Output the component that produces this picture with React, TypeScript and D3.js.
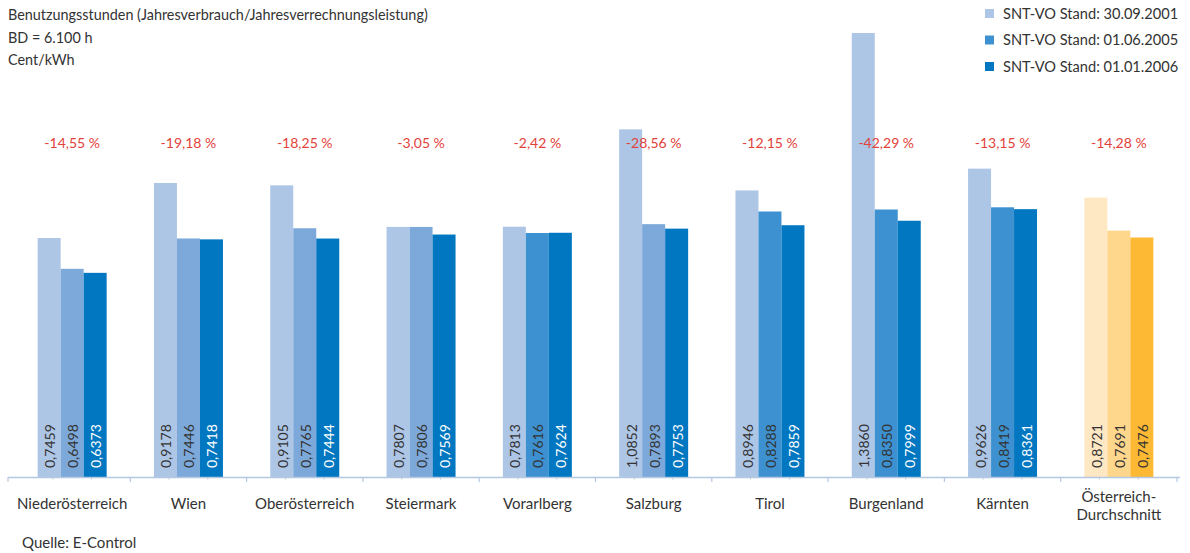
import React from "react";
import * as d3 from "d3";

const categories = [
  "Niederösterreich",
  "Wien",
  "Oberösterreich",
  "Steiermark",
  "Vorarlberg",
  "Salzburg",
  "Tirol",
  "Burgenland",
  "Kärnten",
  "Österreich-\nDurchschnitt",
];
const series2001 = [0.7459, 0.9178, 0.9105, 0.7807, 0.7813, 1.0852, 0.8946, 1.386, 0.9626, 0.8721];
const series2005 = [0.6498, 0.7446, 0.7765, 0.7806, 0.7616, 0.7893, 0.8288, 0.835, 0.8419, 0.7691];
const series2006 = [0.6373, 0.7418, 0.7444, 0.7569, 0.7624, 0.7753, 0.7859, 0.7999, 0.8361, 0.7476];
const changes = ["-14,55 %", "-19,18 %", "-18,25 %", "-3,05 %", "-2,42 %", "-28,56 %", "-12,15 %", "-42,29 %", "-13,15 %", "-14,28 %"];
const legendLabels = ["SNT-VO Stand: 30.09.2001", "SNT-VO Stand: 01.06.2005", "SNT-VO Stand: 01.01.2006"];
const titleLines = ["Benutzungsstunden (Jahresverbrauch/Jahresverrechnungsleistung)", "BD = 6.100 h", "Cent/kWh"];
const sourceText = "Quelle: E-Control";
// which categories use the lighter middle-bar shade
const lightMiddle = [true, true, true, true, false, true, false, false, false, false];

const FONT = "Lato, 'Open Sans', sans-serif";
const BLUE = ["#AEC6E6", "#3D91D0", "#0077C0"];
const BLUE_MID_LIGHT = "#7DA9DA";
const ORANGE = ["#FEE7C3", "#FED68C", "#FDB933"];

export default function App() {
  const W = 1190;
  const H = 553;
  const baseY = 477;
  const x = d3.scaleBand<string>().domain(categories).range([14, 1177]).paddingInner(0).paddingOuter(0);
  const sub = d3.scaleBand<number>().domain([0, 1, 2]).range([0, 69]);
  const y = d3.scaleLinear().domain([0, 1.386]).range([baseY, 33]);
  const step = x.step();
  const seriesList = [series2001, series2005, series2006];

  const boundaries = d3.range(categories.length + 1).map((i) => 14 + i * step);

  return (
    <svg width={W} height={H} style={{ position: "absolute", left: 0, top: 0, background: "#fff" }}>
      {/* title */}
      {titleLines.map((t, i) => (
        <text key={t} x={8} y={20 + i * 22.5} fontFamily={FONT} fontSize={14.4} fill="#333">
          {t}
        </text>
      ))}
      {/* legend */}
      {legendLabels.map((t, i) => (
        <g key={t} transform={`translate(985,${9 + i * 26.5})`}>
          <rect width={9} height={9} fill={BLUE[i]} />
          <text x={18} y={9.5} fontFamily={FONT} fontSize={14.6} fill="#333">
            {t}
          </text>
        </g>
      ))}
      {/* bars */}
      {categories.map((c, ci) => {
        const cx = (x(c) as number) + step / 2;
        const gx = cx - 34.5;
        const isAvg = ci === categories.length - 1;
        return (
          <g key={c}>
            {seriesList.map((s, si) => {
              const v = s[ci];
              let fill = isAvg ? ORANGE[si] : BLUE[si];
              if (!isAvg && si === 1 && lightMiddle[ci]) fill = BLUE_MID_LIGHT;
              const bx = gx + (sub(si) as number);
              const bw = sub.bandwidth();
              const txtColor = !isAvg && si === 2 ? "#fff" : "#333";
              return (
                <g key={si}>
                  <rect x={bx} y={y(v)} width={bw} height={baseY - y(v)} fill={fill} />
                  <text
                    transform={`translate(${bx + bw / 2 + 0.5},${468}) rotate(-90)`}
                    dominantBaseline="central"
                    fontFamily={FONT}
                    fontSize={14}
                    fill={txtColor}
                  >
                    {d3.format(".4f")(v).replace(".", ",")}
                  </text>
                </g>
              );
            })}
            <text x={cx} y={148} textAnchor="middle" fontFamily={FONT} fontSize={14} fill="#E2423A">
              {changes[ci]}
            </text>
            {c.split("\n").map((line, li, arr) => (
              <text
                key={li}
                x={cx}
                y={arr.length > 1 ? 502 + li * 18 : 509}
                textAnchor="middle"
                fontFamily={FONT}
                fontSize={15}
                fill="#333"
              >
                {line}
              </text>
            ))}
          </g>
        );
      })}
      {/* axis */}
      <line x1={8} x2={1180} y1={baseY + 0.5} y2={baseY + 0.5} stroke="#B4C8E2" strokeWidth={1.6} />
      {[8, ...boundaries.slice(1)].map((bx, i) => (
        <line key={"t" + i} x1={bx} x2={bx} y1={baseY} y2={baseY + 5} stroke="#B4C8E2" strokeWidth={1.2} />
      ))}
      {boundaries.slice(0, -1).flatMap((bx, i) =>
        [1, 2].map((k) => (
          <line
            key={"m" + i + k}
            x1={bx + (k * step) / 3}
            x2={bx + (k * step) / 3}
            y1={baseY}
            y2={baseY + 2.5}
            stroke="#B4C8E2"
            strokeWidth={1}
          />
        ))
      )}
      <text x={22} y={548} fontFamily={FONT} fontSize={15} fill="#333">
        {sourceText}
      </text>
    </svg>
  );
}
